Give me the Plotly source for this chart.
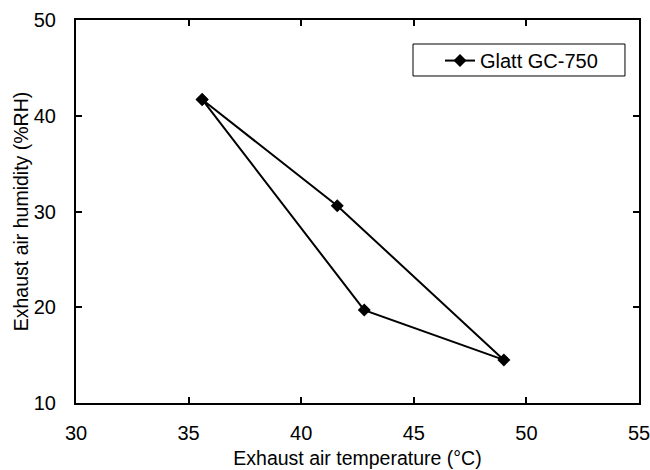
import plotly.graph_objects as go

temperature = [35.6, 41.6, 49.0, 42.8, 35.6]
humidity = [41.7, 30.6, 14.5, 19.7, 41.7]
series_name = "Glatt GC-750"
x_ticks = [30, 35, 40, 45, 50, 55]
y_ticks = [10, 20, 30, 40, 50]

FONT = "Liberation Sans, Arial, sans-serif"

fig = go.Figure()
fig.add_trace(go.Scatter(
    x=temperature, y=humidity, mode="lines+markers", name=series_name,
    line=dict(color="black", width=2),
    marker=dict(symbol="diamond", size=10, color="black"),
))

axis_common = dict(
    showline=True, linecolor="black", linewidth=2, mirror="ticks",
    ticks="inside", ticklen=6, tickwidth=1.5, tickcolor="black",
    showgrid=False, zeroline=False, automargin=False,
    ticklabeloverflow="allow",
    tickfont=dict(family=FONT, size=20, color="black"),
)

fig.update_layout(
    width=650, height=470,
    margin=dict(l=76, r=11, t=20, b=67),
    paper_bgcolor="white", plot_bgcolor="white",
    font=dict(family=FONT, size=20, color="black"),
    xaxis=dict(range=[30, 55], tickvals=x_ticks, ticklabelstandoff=11,
               title=dict(text="Exhaust air temperature (°C)", standoff=8,
                          font=dict(family=FONT, size=19.5)),
               **axis_common),
    yaxis=dict(range=[10, 50], tickvals=y_ticks, ticklabelstandoff=14,
               title=dict(text="Exhaust air humidity (%RH)", standoff=0,
                          font=dict(family=FONT, size=19.5)),
               **axis_common),
    legend=dict(x=0.6465, xanchor="left", y=0.945, yanchor="top",
                borderwidth=0, bgcolor="rgba(0,0,0,0)",
                font=dict(family=FONT, size=20)),
    showlegend=True,
    shapes=[dict(type="rect", xref="paper", yref="paper",
                 x0=0.5986, x1=0.9751, y0=0.8538, y1=0.9373,
                 line=dict(color="black", width=1), fillcolor="white",
                 layer="below")],
)

fig.write_html("out.html")
